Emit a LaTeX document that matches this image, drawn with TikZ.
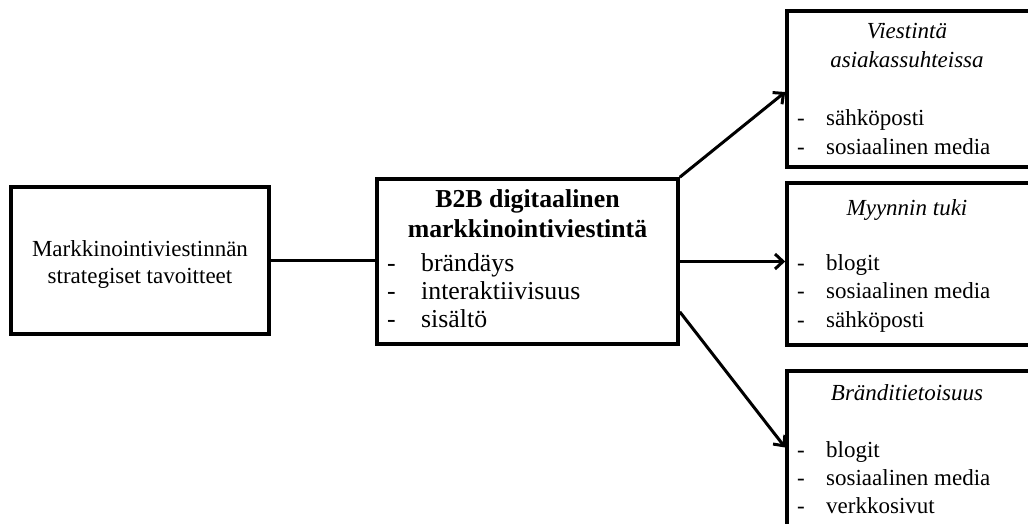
\documentclass[tikz,border=0pt]{standalone}
\usepackage{fontspec}
\setmainfont{Liberation Serif}
\usetikzlibrary{arrows.meta,calc}
\begin{document}
\begin{tikzpicture}[x=1pt,y=-1pt,
  box/.style={draw, line width=3.6pt, rectangle, inner sep=0pt},
  txt/.style={inner sep=0pt, font=\fontsize{23}{27.6}\selectfont},
  ittxt/.style={inner sep=0pt, font=\fontsize{23}{27.6}\selectfont\itshape},
  bigtxt/.style={inner sep=0pt, font=\fontsize{25.8}{30}\selectfont},
  boldtxt/.style={inner sep=0pt, font=\fontsize{25.8}{30}\selectfont\bfseries},
  link/.style={line width=3pt},
  arr/.style={link, -{Straight Barb[length=8pt,width=15pt]}}
]
\useasboundingbox (0,0) rectangle (1028,524);
\clip (0,0) rectangle (1028,524);

% left box
\node[box, minimum width=258pt, minimum height=147pt] (goal) at (140,260.5) {};
\node[txt, anchor=base] (g1) at (140,256) {Markkinointiviestinnän};
\node[txt, anchor=base] (g2) at (140,283) {strategiset tavoitteet};

% middle box
\node[box, minimum width=301pt, minimum height=165pt] (dm) at (527.5,261.5) {};
\node[boldtxt, anchor=base] (t1) at (527.5,207) {B2B digitaalinen};
\node[boldtxt, anchor=base] (t2) at (527.5,237) {markkinointiviestintä};
\foreach \y/\w [count=\i] in {271/brändäys, 299/interaktiivisuus, 327/sisältö}{
  \node[bigtxt, anchor=base west] (dmd\i) at (387,\y) {-};
  \node[bigtxt, anchor=base west] (dmi\i) at (421,\y) {\w};
}

% right boxes
\node[box, minimum width=243pt, minimum height=156pt] (vb) at (908.5,89) {};
\node[ittxt, anchor=base] (v1) at (907,39) {Viestintä};
\node[ittxt, anchor=base] (v2) at (907,68) {asiakassuhteissa};
\foreach \y/\w [count=\i] in {126/sähköposti, 155/sosiaalinen media}{
  \node[txt, anchor=base west] (vbd\i) at (797,\y) {-};
  \node[txt, anchor=base west] (vbi\i) at (826,\y) {\w};
}

\node[box, minimum width=243pt, minimum height=162pt] (mb) at (908.5,264) {};
\node[ittxt, anchor=base] (m1) at (907,215) {Myynnin tuki};
\foreach \y/\w [count=\i] in {270/blogit, 298/sosiaalinen media, 327/sähköposti}{
  \node[txt, anchor=base west] (mbd\i) at (797,\y) {-};
  \node[txt, anchor=base west] (mbi\i) at (826,\y) {\w};
}

\node[box, minimum width=243pt, minimum height=161pt] (bb) at (908.5,451.5) {};
\node[ittxt, anchor=base] (b1) at (907,400) {Bränditietoisuus};
\foreach \y/\w [count=\i] in {457/blogit, 485/sosiaalinen media, 513/verkkosivut}{
  \node[txt, anchor=base west] (bbd\i) at (797,\y) {-};
  \node[txt, anchor=base west] (bbi\i) at (826,\y) {\w};
}

% connectors
\draw[link] (goal.east) -- (goal.east -| dm.west);
\draw[arr] (dm.north east) -- ($(vb.west)+(0,3)$);
\draw[arr] (dm.east) -- (dm.east -| mb.west);
\draw[arr] ($(dm.south east)+(0,-34)$) -- ($(bb.west)+(0,-4)$);
\end{tikzpicture}
\end{document}
